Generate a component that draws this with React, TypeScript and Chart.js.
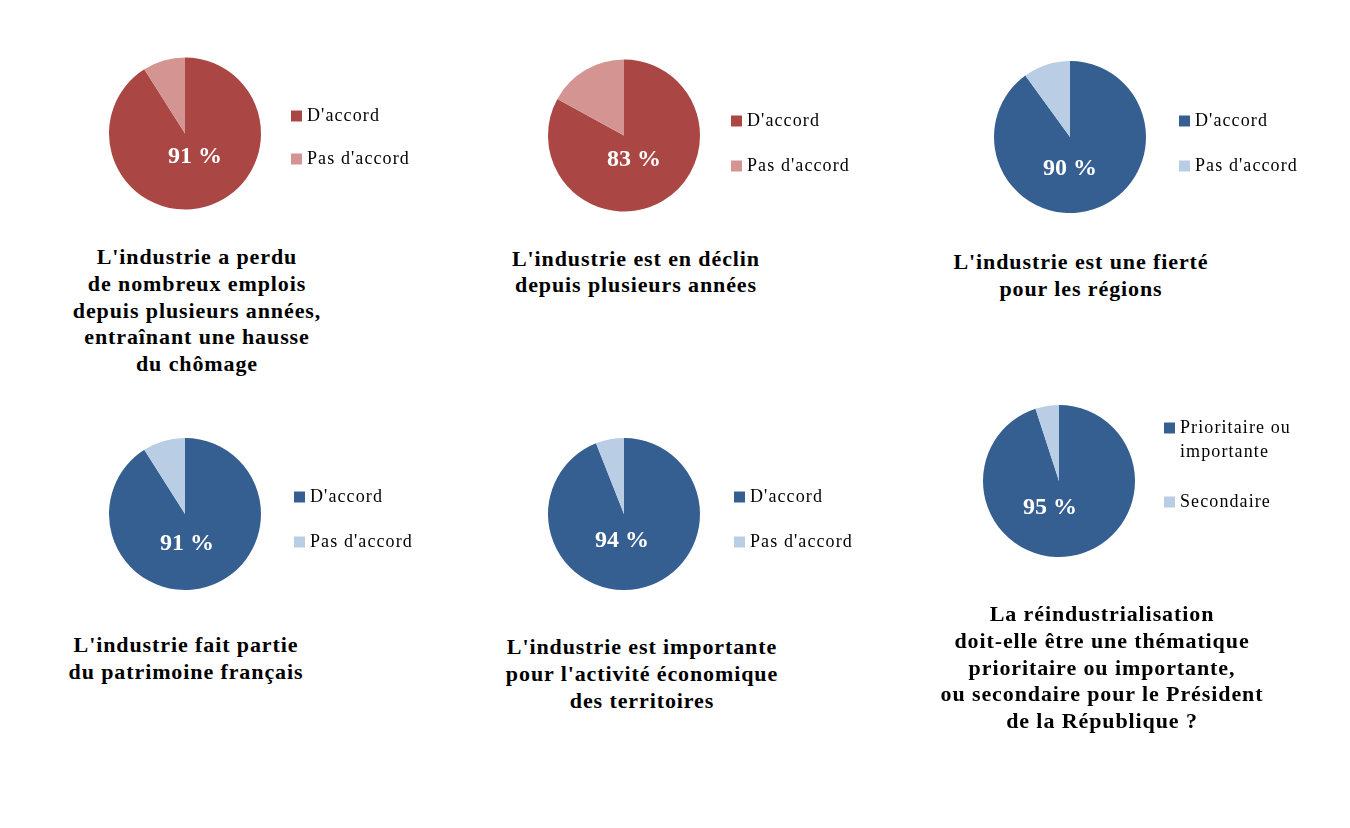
import React, { useEffect, useRef } from "react";
import { Chart, registerables } from "chart.js";

Chart.register(...registerables);

const FONT = "'Liberation Serif', 'Times New Roman', serif";

// ---------- data ----------
const agreeLabels: (string | string[])[] = ["D'accord", "Pas d'accord"];
const priorityLabels: (string | string[])[] = [["Prioritaire ou", "importante"], "Secondaire"];

const valuesJobs = [91, 9];
const valuesDecline = [83, 17];
const valuesPride = [90, 10];
const valuesHeritage = [91, 9];
const valuesTerritories = [94, 6];
const valuesPriority = [95, 5];

const redColors = ["#AA4643", "#D49592"];
const blueColors = ["#365F91", "#B9CDE5"];

const titleJobs = "L'industrie a perdu\nde nombreux emplois\ndepuis plusieurs années,\nentraînant une hausse\ndu chômage";
const titleDecline = "L'industrie est en déclin\ndepuis plusieurs années";
const titlePride = "L'industrie est une fierté\npour les régions";
const titleHeritage = "L'industrie fait partie\ndu patrimoine français";
const titleTerritories = "L'industrie est importante\npour l'activité économique\ndes territoires";
const titlePriority = "La réindustrialisation\ndoit-elle être une thématique\nprioritaire ou importante,\nou secondaire pour le Président\nde la République ?";

// ---------- layout (positions / styles only) ----------
type Layout = {
  cx: number; cy: number; bx: number; by: number; p: number;
  ldx: number; ldy: number; tcx: number; tby: number;
};

const panels: { values: number[]; labels: (string | string[])[]; colors: string[]; title: string; layout: Layout }[] = [
  { values: valuesJobs, labels: agreeLabels, colors: redColors, title: titleJobs,
    layout: { cx: 185, cy: 133, bx: 291, by: 115.5, p: 25, ldx: 10, ldy: 23, tcx: 197, tby: 265 } },
  { values: valuesDecline, labels: agreeLabels, colors: redColors, title: titleDecline,
    layout: { cx: 624, cy: 135, bx: 731, by: 120.5, p: 27, ldx: 10, ldy: 24, tcx: 636, tby: 266.5 } },
  { values: valuesPride, labels: agreeLabels, colors: blueColors, title: titlePride,
    layout: { cx: 1070, cy: 137, bx: 1179, by: 121, p: 27, ldx: 0, ldy: 32, tcx: 1081, tby: 270 } },
  { values: valuesHeritage, labels: agreeLabels, colors: blueColors, title: titleHeritage,
    layout: { cx: 185, cy: 514, bx: 294, by: 497, p: 27, ldx: 2, ldy: 30, tcx: 186, tby: 653 } },
  { values: valuesTerritories, labels: agreeLabels, colors: blueColors, title: titleTerritories,
    layout: { cx: 624, cy: 514, bx: 734, by: 497, p: 27, ldx: -2, ldy: 27, tcx: 642, tby: 655 } },
  { values: valuesPriority, labels: priorityLabels, colors: blueColors, title: titlePriority,
    layout: { cx: 1059, cy: 481, bx: 1164, by: 428, p: 26, ldx: -9, ldy: 27, tcx: 1102, tby: 622 } },
];

const RADIUS = 76;
const LEGEND_FS = 18;
const LEGEND_SPACING = "1.1px";
const LEGEND_TITLE_H = 40;
const BOX_STROKE = 8;
const BOX_W = 3;
const EXTRA_W = 240;

const letterSpacingPlugin = {
  id: "letterSpacing",
  beforeUpdate(chart: any) {
    (chart.ctx as any).letterSpacing = LEGEND_SPACING;
  },
  beforeDraw(chart: any) {
    (chart.ctx as any).letterSpacing = LEGEND_SPACING;
  },
};

const centerLabel = {
  id: "centerLabel",
  afterDatasetsDraw(chart: any, _args: any, opts: any) {
    const arc = chart.getDatasetMeta(0).data[0];
    if (!arc) return;
    const ctx = chart.ctx;
    ctx.save();
    (ctx as any).letterSpacing = "0px";
    ctx.font = `bold 24px ${FONT}`;
    ctx.fillStyle = "#FFFFFF";
    ctx.textAlign = "center";
    ctx.textBaseline = "middle";
    ctx.fillText(opts.text, arc.x + opts.dx, arc.y + opts.dy);
    ctx.restore();
  },
};

function PiePanel({ values, labels, colors, layout }: { values: number[]; labels: (string | string[])[]; colors: string[]; layout: Layout }) {
  const ref = useRef<HTMLCanvasElement | null>(null);
  const { cx, cy, bx, by, p } = layout;
  const W = 2 * (bx - cx - p + BOX_STROKE / 2);
  const H = 2 * (cy - by + LEGEND_TITLE_H + p + LEGEND_FS / 2);
  const canvasW = Math.round(W + EXTRA_W);
  const canvasH = Math.round(H);

  useEffect(() => {
    if (!ref.current) return;
    const chart: any = new Chart(ref.current, {
      type: "pie",
      data: {
        labels: labels as any,
        datasets: [
          {
            data: values,
            backgroundColor: colors,
            borderWidth: 0,
            hoverBorderWidth: 0,
            radius: RADIUS,
            clip: false as any,
          } as any,
        ],
      },
      options: {
        responsive: false,
        animation: false,
        events: [],
        layout: { padding: { left: 0, top: 0, bottom: 0, right: 0 } },
        plugins: {
          tooltip: { enabled: false },
          legend: {
            display: true,
            position: "right",
            align: "start",
            title: { display: true, text: " ", font: { size: 10, lineHeight: LEGEND_TITLE_H / 10 }, padding: 0 } as any,
            labels: {
              boxWidth: BOX_W,
              boxHeight: BOX_W,
              padding: p,
              color: "#000000",
              font: { family: FONT, size: LEGEND_FS, lineHeight: 24 / LEGEND_FS },
              generateLabels: () =>
                labels.map((t, i) => ({
                  text: t as any,
                  fillStyle: colors[i],
                  strokeStyle: colors[i],
                  lineWidth: BOX_STROKE,
                  lineJoin: "miter" as CanvasLineJoin,
                  hidden: false,
                  index: i,
                  fontColor: "#000000",
                })),
            },
          },
          centerLabel: { text: `${values[0]} %`, dx: layout.ldx, dy: layout.ldy },
        } as any,
      },
      plugins: [letterSpacingPlugin, centerLabel],
    });
    // second pass: keep the pie area exactly W wide, legend right after it
    const lw = chart.legend ? chart.legend.width : 0;
    chart.options.layout.padding = { left: 0, top: 0, bottom: 0, right: Math.max(0, canvasW - W - lw) };
    chart.update();
    return () => chart.destroy();
  }, []);

  return (
    <canvas
      ref={ref}
      width={canvasW}
      height={canvasH}
      style={{
        position: "absolute",
        left: Math.round(cx - W / 2),
        top: Math.round(cy - H / 2),
        width: canvasW,
        height: canvasH,
      }}
    />
  );
}

const TITLE_FS = 22;
const TITLE_LH = 26.7;
const TITLE_BASE_OFFSET = (TITLE_LH - TITLE_FS * 1.107) / 2 + TITLE_FS * 0.891;

export default function App() {
  return (
    <div
      style={{
        position: "absolute",
        left: 0,
        top: 0,
        width: 1350,
        height: 828,
        background: "#FFFFFF",
        overflow: "hidden",
      }}
    >
      {panels.map((pn, i) => (
        <PiePanel key={"c" + i} values={pn.values} labels={pn.labels} colors={pn.colors} layout={pn.layout} />
      ))}
      {panels.map((pn, i) => (
        <div
          key={"t" + i}
          style={{
            position: "absolute",
            left: pn.layout.tcx - 200,
            top: pn.layout.tby - TITLE_BASE_OFFSET,
            width: 400,
            textAlign: "center",
            whiteSpace: "pre-line",
            fontFamily: FONT,
            fontWeight: "bold",
            fontSize: TITLE_FS,
            letterSpacing: "0.9px",
            lineHeight: `${TITLE_LH}px`,
            color: "#000000",
          }}
        >
          {pn.title}
        </div>
      ))}
    </div>
  );
}
